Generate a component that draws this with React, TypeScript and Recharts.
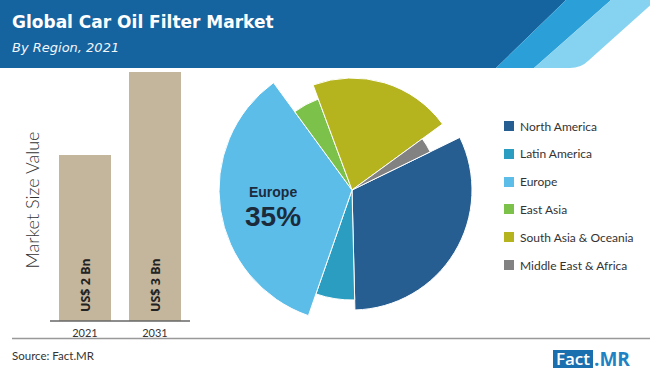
import React from 'react';
import { BarChart, Bar, XAxis, YAxis, LabelList, PieChart, Pie, Cell } from 'recharts';

// ---- data ----
const years = ['2021', '2031'];
const marketSizeBn = [2, 3];

const regions = ['North America', 'Latin America', 'Europe', 'East Asia', 'South Asia & Oceania', 'Middle East & Africa'];
const regionShare = [31.8, 5.7, 34.6, 4.4, 20.6, 2.8];

// ---- styles ----
const regionColors = ['#265e92', '#2a9dc1', '#5cbde9', '#7cc24a', '#b5b41f', '#828282'];
const sliceRadii = [120, 110, 133, 97, 112, 87];
const highlightIndex = 2;

const barData = years.map((y, i) => ({ year: y, value: marketSizeBn[i] }));
const pieData = regions.map((n, i) => ({ name: n, value: regionShare[i] }));

const RAD = Math.PI / 180;

const renderHighlightLabel = (props: any) => {
  const { cx, cy, midAngle, outerRadius, index, name, percent } = props;
  if (index !== highlightIndex) return null;
  const r = outerRadius * 0.6;
  const x = cx + r * Math.cos(-midAngle * RAD);
  const y = cy + r * Math.sin(-midAngle * RAD);
  return (
    <g>
      <text x={x} y={y - 9.5} textAnchor="middle" dominantBaseline="central" fill="#1c2b3c"
        style={{ fontFamily: 'Liberation Sans', fontWeight: 700, fontSize: 14 }}>{name}</text>
      <text x={x} y={y + 14.5} textAnchor="middle" dominantBaseline="central" fill="#1c2b3c"
        style={{ fontFamily: 'Liberation Sans', fontWeight: 700, fontSize: 28 }}>{`${Math.round(percent * 100)}%`}</text>
    </g>
  );
};

const BarValueLabel = (props: any) => {
  const { x, y, width, height, value } = props;
  const tx = x + width / 2;
  const ty = y + height - 9;
  return (
    <text x={tx} y={ty} transform={`rotate(-90, ${tx}, ${ty})`} textAnchor="start" dominantBaseline="central"
      fill="#222" style={{ fontFamily: 'Noto Sans', fontWeight: 700, fontSize: 12.5 }}>{`US$ ${value} Bn`}</text>
  );
};

export default function App() {
  return (
    <div style={{ position: 'absolute', left: 0, top: 0, width: 650, height: 373, background: '#fff', overflow: 'hidden', fontFamily: 'Lato' }}>
      {/* header banner */}
      <svg width={650} height={373} style={{ position: 'absolute', left: 0, top: 0 }}>
        <polygon points="0,0 566,0 496,68 0,68" fill="#15639f" />
        <polygon points="566,0 611,0 534,68 496,68" fill="#2a9fd8" />
        <path d="M611,0 L656,0 L588,61 Q581,68 570,68 L534,68 Z" fill="#86d3f1" />
        <text x={12} y={28} fill="#fff" style={{ fontFamily: 'DejaVu Sans', fontWeight: 700, fontSize: 17 }}>Global Car Oil Filter Market</text>
        <text x={12} y={52} fill="#f2f6fa" style={{ fontFamily: 'DejaVu Sans', fontStyle: 'italic', fontSize: 13 }}>By Region, 2021</text>
        <text x={32} y={200} transform="rotate(-90, 32, 200)" textAnchor="middle" dominantBaseline="central" fill="#333"
          style={{ fontFamily: 'Lato', fontWeight: 300, fontSize: 18 }}>Market Size Value</text>
        <line x1={12} y1={338.5} x2={650} y2={338.5} stroke="#999" strokeWidth={1.5} />
        <text x={12} y={360} fill="#333" style={{ fontFamily: 'Lato', fontSize: 11.5 }}>Source: Fact.MR</text>
        <rect x={553} y={350} width={40} height={18} fill="#1a6fae" />
        <text x={573} y={365} textAnchor="middle" fill="#fff" style={{ fontFamily: 'Open Sans', fontWeight: 600, fontSize: 17 }}>Fact</text>
        <text x={594} y={366} fill="#1e82c4" style={{ fontFamily: 'Open Sans', fontWeight: 700, fontSize: 19 }}>.MR</text>
      </svg>

      {/* bar chart */}
      <div style={{ position: 'absolute', left: 0, top: 0 }}>
        <BarChart width={200} height={373} data={barData} margin={{ top: 72, right: 10, bottom: 32, left: 50 }}>
          <XAxis dataKey="year" height={20} axisLine={{ stroke: '#666', strokeWidth: 1.5 }} tickLine={false}
            tick={{ fontSize: 11, fill: '#333', fontFamily: 'Lato' }} />
          <YAxis hide domain={[0, 3]} />
          <Bar dataKey="value" fill="#c4b69d" barSize={52} isAnimationActive={false}>
            <LabelList dataKey="value" content={<BarValueLabel />} />
          </Bar>
        </BarChart>
      </div>

      {/* pie chart */}
      <div style={{ position: 'absolute', left: 200, top: 60 }}>
        <PieChart width={300} height={280} margin={{ top: 0, right: 0, bottom: 0, left: 0 }}>
          {regions.map((r, i) => (
            <Pie key={r} data={pieData} dataKey="value" nameKey="name" cx={152} cy={130}
              startAngle={26} endAngle={-334} innerRadius={0} outerRadius={sliceRadii[i]}
              isAnimationActive={false} labelLine={false}
              label={i === highlightIndex ? renderHighlightLabel : false}>
              {pieData.map((d, j) => (
                <Cell key={d.name} fill={j === i ? regionColors[j] : 'transparent'}
                  stroke={j === i ? '#fff' : 'none'} strokeWidth={1} />
              ))}
            </Pie>
          ))}
        </PieChart>
      </div>

      {/* legend */}
      {regions.map((r, i) => (
        <div key={r} style={{ position: 'absolute', left: 504, top: 126 + i * 27.8 - 7, height: 14, display: 'flex', alignItems: 'center' }}>
          <div style={{ width: 10, height: 10, background: regionColors[i], marginRight: 6 }} />
          <span style={{ fontFamily: 'Lato', fontSize: 12, color: '#333', whiteSpace: 'nowrap' }}>{r}</span>
        </div>
      ))}
    </div>
  );
}
